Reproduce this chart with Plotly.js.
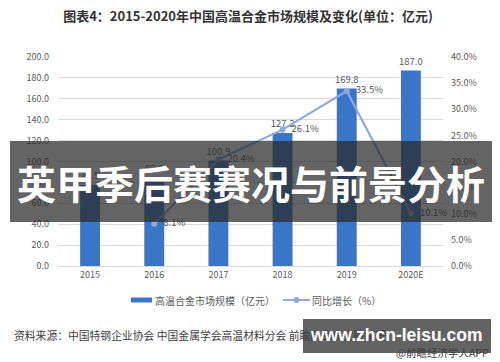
<!DOCTYPE html>
<html>
<head>
<meta charset="utf-8">
<script src="https://cdn.plot.ly/plotly-3.0.1.min.js"></script>
<style>html,body{margin:0;padding:0;background:#fff;}#chart{width:500px;height:362px;}</style>
</head>
<body>
<div id="chart"></div>
<script>
var years = ['2015', '2016', '2017', '2018', '2019', '2020E'];
var marketSize = [77.5, 83.8, 100.9, 127.2, 169.8, 187.0];
var growthYears = ['2016', '2017', '2018', '2019', '2020E'];
var growthRate = [8.1, 20.4, 26.1, 33.5, 10.1];
var leftTicks = [0, 20, 40, 60, 80, 100, 120, 140, 160, 180, 200];
var rightTicks = [0, 5, 10, 15, 20, 25, 30, 35, 40];
var barName = '高温合金市场规模（亿元）';
var lineName = '同比增长（%）';

var FONT = '"Microsoft YaHei", "Noto Sans CJK SC", "Noto Sans", sans-serif';
var GRAY = '#595959';
var BAR_COLOR = '#3a76c8';
var LINE_COLOR = '#8eaadc';

var bars = {
  type: 'bar', x: years, y: marketSize, name: barName,
  marker: {color: BAR_COLOR}, width: 0.31,
  text: marketSize.map(function(v){return v.toFixed(1);}),
  textposition: 'outside', cliponaxis: false, constraintext: 'none',
  textfont: {size: 9.5, color: GRAY, family: FONT},
  hoverinfo: 'skip', showlegend: false
};
var line = {
  type: 'scatter', mode: 'lines+markers+text', x: growthYears, y: growthRate, yaxis: 'y2',
  name: lineName,
  line: {color: LINE_COLOR, width: 2.2},
  marker: {color: LINE_COLOR, size: 6},
  text: growthRate.map(function(v){return '\u00a0\u00a0' + v.toFixed(1) + '%';}),
  textposition: 'middle right', cliponaxis: false,
  textfont: {size: 9.5, color: GRAY, family: FONT},
  hoverinfo: 'skip', showlegend: false
};

// helpers: pixel -> paper coordinates
var L = 58, R = 443, T = 57, B = 266;
function px(x){return (x - L) / (R - L);}
function py(y){return (B - y) / (B - T);}

var layout = {
  width: 500, height: 362,
  margin: {l: L, r: 500 - R, t: T, b: 362 - B, pad: 0},
  paper_bgcolor: '#ffffff', plot_bgcolor: '#ffffff',
  font: {family: FONT, color: GRAY, size: 9.5},
  showlegend: false,
  xaxis: {type: 'category', showgrid: false, showline: true, linecolor: '#d9d9d9', linewidth: 1,
          ticks: '', tickfont: {size: 9, color: GRAY}, fixedrange: true},
  yaxis: {range: [0, 200], tickvals: leftTicks, ticktext: leftTicks.map(function(v){return v.toFixed(1);}),
          showgrid: true, gridcolor: '#d9d9d9', gridwidth: 1, zeroline: false, showline: false,
          ticks: '', ticklabelstandoff: 8, tickfont: {size: 9, color: GRAY}},
  yaxis2: {range: [0, 40], overlaying: 'y', side: 'right', tickvals: rightTicks,
           ticktext: rightTicks.map(function(v){return v.toFixed(1) + '%';}),
           showgrid: false, zeroline: false, showline: false, ticks: '', ticklabelstandoff: 7,
           tickfont: {size: 9, color: GRAY}},
  title: {text: '图表4：2015-2020年中国高温合金市场规模及变化(单位：亿元)',
          font: {size: 13, color: '#333333', family: FONT, weight: 'bold'},
          x: 248 / 500, xanchor: 'center', y: 1 - 16 / 362, yanchor: 'middle'},
  shapes: [
    // legend symbols
    {type: 'rect', xref: 'paper', yref: 'paper', x0: px(131), x1: px(152), y0: py(302.5), y1: py(297.5),
     fillcolor: BAR_COLOR, line: {width: 0}},
    {type: 'line', xref: 'paper', yref: 'paper', x0: px(283), x1: px(310), y0: py(300), y1: py(300),
     line: {color: LINE_COLOR, width: 2}},
    {type: 'circle', xref: 'paper', yref: 'paper', x0: px(293.5), x1: px(299.5), y0: py(303), y1: py(297),
     fillcolor: LINE_COLOR, line: {width: 0}},
    // overlays
    {type: 'rect', xref: 'paper', yref: 'paper', x0: px(10), x1: px(492), y0: py(222), y1: py(141),
     fillcolor: 'rgba(40,40,40,0.72)', line: {width: 0}, layer: 'above'},
    {type: 'rect', xref: 'paper', yref: 'paper', x0: px(303), x1: px(491), y0: py(353), y1: py(319),
     fillcolor: 'rgba(60,60,60,0.8)', line: {width: 0}, layer: 'above'}
  ],
  annotations: [
    {xref: 'paper', yref: 'paper', x: px(153), y: py(300), xanchor: 'left', yanchor: 'middle',
     text: barName, showarrow: false, font: {size: 10, color: GRAY, family: FONT}},
    {xref: 'paper', yref: 'paper', x: px(310), y: py(300), xanchor: 'left', yanchor: 'middle',
     text: lineName, showarrow: false, font: {size: 10, color: GRAY, family: FONT}},
    {xref: 'paper', yref: 'paper', x: px(12), y: py(335), xanchor: 'left', yanchor: 'middle',
     text: '资料来源：中国特钢企业协会 中国金属学会高温材料分会 前瞻产业研究院整理', showarrow: false,
     font: {size: 10.8, color: '#404040', family: FONT}},
    {xref: 'paper', yref: 'paper', x: px(491), y: py(352), xanchor: 'right', yanchor: 'middle',
     text: '@前瞻经济学人APP', showarrow: false,
     font: {size: 10.5, color: '#404040', family: FONT}},
    {xref: 'paper', yref: 'paper', x: px(251), y: py(182), xanchor: 'center', yanchor: 'middle',
     text: '英甲季后赛赛况与前景分析', showarrow: false,
     font: {size: 39, color: '#ffffff', family: FONT, weight: 'bold'}},
    {xref: 'paper', yref: 'paper', x: px(396), y: py(335), xanchor: 'center', yanchor: 'middle',
     text: 'www.zhcn-leisu.com', showarrow: false,
     font: {size: 17.5, color: '#ffffff', family: '"Liberation Sans", Arial, sans-serif', weight: 'bold'}}
  ]
};

Plotly.newPlot('chart', [bars, line], layout, {displayModeBar: false, staticPlot: true});
</script>
</body>
</html>
